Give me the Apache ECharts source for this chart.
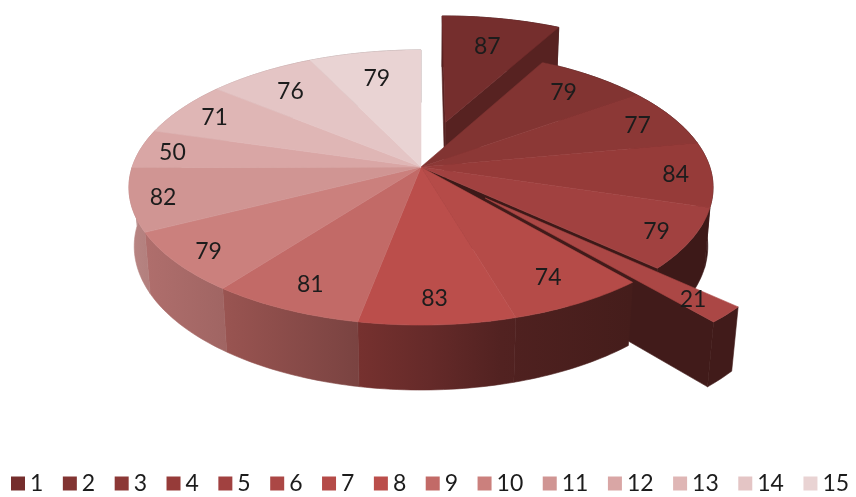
<!DOCTYPE html>
<html>
<head>
<meta charset="utf-8">
<style>html,body{margin:0;padding:0;background:#fff}#chart{width:856px;height:497px}</style>
<script src="https://cdn.jsdelivr.net/npm/echarts@6/dist/echarts.min.js"></script>
</head>
<body>
<div id="chart"></div>
<script>
// Slice names and values, clockwise from twelve o'clock.
const names = ['1','2','3','4','5','6','7','8','9','10','11','12','13','14','15'];
const values = [87,79,77,84,79,21,74,83,81,79,82,50,71,76,79];
const colors = ['#752e2d','#823432','#8c3836','#963b39','#a14140','#ab4745','#b54b48','#bb4e4b',
                '#c26a67','#cb807d','#d09593','#d9a6a5','#dfb6b5','#e4c5c5','#e9d3d3'];

// Radial position of each value label, as a fraction of the pie radius.
const labelReach = [.72,.816,.857,.877,.878,.875,.825,.846,.835,.878,.89,.885,.856,.799,.76];
// Pulled-out slices: index -> distance in pie radii.
const explode = {0:.36, 5:.31};

// Perspective camera: top face at z=0, bottom face at z=1.
const cam = {cx:421, cy:167, sx:288.8, sy:134.5, k:.149, m:.018, n:59.3};
function project(x, y, z) {
  const w = 1 - cam.k * y + cam.m * z;
  return [cam.cx + cam.sx * x / w, cam.cy + (cam.sy * y + cam.n * z) / w];
}

// Wall lighting falls off from left to right across the screen.
const shadeStops = [[130,.89],[147,.86],[225,.79],[358,.63],[430,.54],[500,.44],[630,.38],[740,.38]];
function mult(hex, f) {
  const c = [1,3,5].map(i => Math.round(parseInt(hex.substr(i,2),16) * f));
  return 'rgb(' + c.join(',') + ')';
}
function wallFill(hex) {
  const x0 = shadeStops[0][0], x1 = shadeStops[shadeStops.length-1][0];
  return {type:'linear', x:x0, y:0, x2:x1, y2:0, global:true,
    colorStops: shadeStops.map(s => ({offset:(s[0]-x0)/(x1-x0), color:mult(hex,s[1])}))};
}

const total = values.reduce((a,b) => a+b, 0);
const labelFont = '23px Lato, "Open Sans", sans-serif';
const pulled = i => (explode[i] || 0) > 0;

function renderSlice(idx) {
  let sum = 0;
  for (let i = 0; i < idx; i++) sum += values[i];
  const a0 = sum / total * 2 * Math.PI;
  const a1 = (sum + values[idx]) / total * 2 * Math.PI;
  const mid = (a0 + a1) / 2;
  const e = explode[idx] || 0;
  const ox = e * Math.sin(mid), oy = -e * Math.cos(mid);
  const pt = (r, a, z) => project(ox + r * Math.sin(a), oy - r * Math.cos(a), z);

  const steps = Math.max(2, Math.ceil((a1 - a0) / 0.02));
  const topRim = [], botRim = [];
  for (let i = 0; i <= steps; i++) {
    const a = a0 + (a1 - a0) * i / steps;
    topRim.push(pt(1, a, 0));
    botRim.push(pt(1, a, 1));
  }
  const apexT = pt(0, 0, 0), apexB = pt(0, 0, 1);

  const base = colors[idx];
  // Walls paint back to front; all top faces share one plane and go over them.
  const zWall = idx < 5 ? 10 : idx === 5 ? 12 : 14;
  const zTop = 20;
  const children = [];

  const wall = wallFill(base);
  children.push({type:'polygon', z2:zWall, silent:true,
    shape:{points: topRim.concat(botRim.slice().reverse())},
    style:{fill:wall, stroke:wall, lineWidth:.6}});

  // A cut face is only exposed next to a pulled-out slice, and only when it turns to the viewer.
  const cutFill = mult(base, idx === 0 ? .74 : .38);
  const addCut = (top, bot, wantPositive, exposed) => {
    if (!exposed) return;
    const ab = [top[0]-apexT[0], top[1]-apexT[1]], bc = [bot[0]-top[0], bot[1]-top[1]];
    const cross = ab[0]*bc[1] - ab[1]*bc[0];
    if (wantPositive ? cross > 0 : cross < 0) {
      children.push({type:'polygon', z2:zWall, silent:true,
        shape:{points:[apexT, top, bot, apexB]},
        style:{fill:cutFill, stroke:cutFill, lineWidth:.6}});
    }
  };
  const prev = (idx + values.length - 1) % values.length, next = (idx + 1) % values.length;
  addCut(topRim[0], botRim[0], false, pulled(idx) || pulled(prev));
  addCut(topRim[steps], botRim[steps], true, pulled(idx) || pulled(next));

  children.push({type:'polygon', z2:zTop, silent:true,
    shape:{points:[apexT].concat(topRim)},
    style:{fill:base, stroke:base, lineWidth:.6}});

  const lp = pt(labelReach[idx], mid, 0);
  children.push({type:'text', z2:40, silent:true,
    style:{text:String(values[idx]), x:lp[0], y:lp[1] + 1.5, fill:'#1c1c1c', font:labelFont,
           align:'center', verticalAlign:'middle'}});

  return {type:'group', children};
}

const chart = echarts.init(document.getElementById('chart'), null, {renderer:'canvas'});
chart.setOption({
  animation:false,
  backgroundColor:'#fff',
  color:colors,
  legend:{
    data:names, left:11, top:472, width:845, itemWidth:14, itemHeight:14, itemGap:19.5,
    icon:'rect', selectedMode:false, padding:0,
    textStyle:{fontFamily:'Lato, "Open Sans", sans-serif', fontSize:23, color:'#1c1c1c', padding:[3,0,0,0]}
  },
  series:names.map((name, i) => ({
    type:'custom', name, coordinateSystem:'none', silent:true,
    itemStyle:{color:colors[i]},
    data:[[values[i]]],
    renderItem:() => renderSlice(i)
  }))
});
</script>
</body>
</html>
